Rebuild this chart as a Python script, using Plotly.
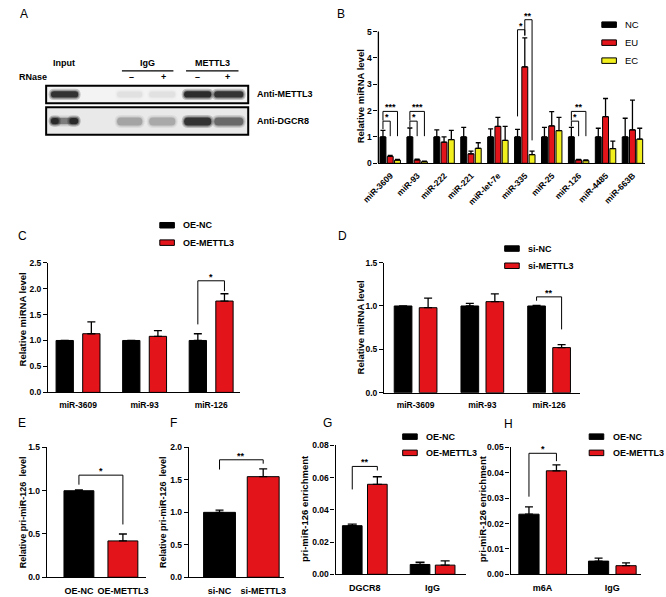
import plotly.graph_objects as go

W, H = 666, 597
FONT = "Liberation Sans, Arial, Helvetica, sans-serif"
RED = "#E3151B"
YELLOW = "#F2EF1E"
BLACK = "#000000"

# ---------------- Data ----------------
# Panel A: western blot (RIP) lanes and relative band intensities
blot_lanes = ["Input", "IgG -", "IgG +", "METTL3 -", "METTL3 +"]
blot_mettl3 = [0.95, 0.03, 0.03, 1.00, 0.92]
blot_dgcr8 = [0.80, 0.26, 0.24, 0.92, 0.55]

# Panel B
b_categories = ["miR-3609", "miR-93", "miR-222", "miR-221", "miR-let-7e",
                "miR-335", "miR-25", "miR-126", "miR-4485", "miR-663B"]
b_series = ["NC", "EU", "EC"]
b_nc = [1.00, 1.00, 1.00, 1.00, 1.00, 1.00, 1.00, 1.00, 1.00, 1.00]
b_nc_err = [0.25, 0.34, 0.27, 0.36, 0.31, 0.29, 0.36, 0.36, 0.33, 0.71]
b_eu = [0.26, 0.13, 0.80, 0.36, 1.40, 3.66, 1.42, 0.13, 1.77, 1.27]
b_eu_err = [0.04, 0.03, 0.20, 0.10, 0.34, 1.10, 0.54, 0.02, 0.69, 1.13]
b_ec = [0.12, 0.06, 0.90, 0.57, 0.87, 0.33, 1.24, 0.10, 0.56, 0.92]
b_ec_err = [0.03, 0.02, 0.35, 0.21, 0.53, 0.13, 0.50, 0.03, 0.28, 0.41]
# (group, series a, series b, bracket height, leg a bottom, leg b bottom, label)
b_sig = [(0, 0, 1, 1.60, 1.30, 1.03, "*"), (0, 0, 2, 1.97, 1.62, 1.03, "***"),
         (1, 0, 1, 1.60, 1.38, 1.03, "*"), (1, 0, 2, 1.97, 1.62, 1.03, "***"),
         (5, 0, 1, 5.07, 1.78, 4.85, "*"), (5, 1, 2, 5.45, 4.85, 0.87, "**"),
         (7, 0, 1, 1.60, 1.40, 1.03, "*"), (7, 0, 2, 1.97, 1.62, 1.03, "**")]

# Panel C
c_categories = ["miR-3609", "miR-93", "miR-126"]
c_series = ["OE-NC", "OE-METTL3"]
c_oe_nc = [1.00, 1.00, 1.00]
c_oe_nc_err = [0.0, 0.0, 0.13]
c_oe_mettl3 = [1.13, 1.08, 1.76]
c_oe_mettl3_err = [0.23, 0.11, 0.14]
c_sig = [(2, 0, 1, 2.15, 1.31, 1.95, "*")]

# Panel D
d_categories = ["miR-3609", "miR-93", "miR-126"]
d_series = ["si-NC", "si-METTL3"]
d_si_nc = [1.00, 1.00, 1.00]
d_si_nc_err = [0.0, 0.03, 0.008]
d_si_mettl3 = [0.98, 1.05, 0.52]
d_si_mettl3_err = [0.11, 0.09, 0.035]
d_sig = [(2, 0, 1, 1.105, 1.06, 0.73, "**")]

# Panel E
e_categories = ["OE-NC", "OE-METTL3"]
e_values = [1.00, 0.42]
e_err = [0.01, 0.08]
e_sig = [(0, 1, 1.18, 1.07, 0.61, "*")]

# Panel F
f_categories = ["si-NC", "si-METTL3"]
f_values = [1.00, 1.55]
f_err = [0.035, 0.12]
f_sig = [(0, 1, 1.81, 1.66, 1.75, "**")]

# Panel G
g_categories = ["DGCR8", "IgG"]
g_series = ["OE-NC", "OE-METTL3"]
g_oe_nc = [0.0302, 0.0061]
g_oe_nc_err = [0.0010, 0.0014]
g_oe_mettl3 = [0.0559, 0.0057]
g_oe_mettl3_err = [0.0047, 0.0026]
g_sig = [(0, 0, 1, 0.067, 0.0527, 0.0645, "**")]

# Panel H
h_categories = ["m6A", "IgG"]
h_series = ["OE-NC", "OE-METTL3"]
h_oe_nc = [0.0237, 0.0052]
h_oe_nc_err = [0.0029, 0.0012]
h_oe_mettl3 = [0.0408, 0.0034]
h_oe_mettl3_err = [0.0023, 0.0011]
h_sig = [(0, 0, 1, 0.0477, 0.0306, 0.0446, "*")]


# ---------------- helpers ----------------
def PX(x):
    return x / W


def PY(y):
    return 1 - y / H


fig = go.Figure()
shapes = []
annotations = []
layout_axes = {}


def text(x, y, s, size=9, bold=True, xanchor="center", yanchor="middle", angle=0):
    annotations.append(dict(
        x=PX(x), y=PY(y), xref="paper", yref="paper", text=s, showarrow=False,
        textangle=angle, xanchor=xanchor, yanchor=yanchor,
        font=dict(family=FONT, size=size, color="black",
                  weight="bold" if bold else "normal")))


def pline(x0, y0, x1, y1, w=1.2):
    shapes.append(dict(type="line", xref="paper", yref="paper",
                       x0=PX(x0), y0=PY(y0), x1=PX(x1), y1=PY(y1),
                       line=dict(color="black", width=w)))


def legend_item(x, y, color, label, bold=True, size=9):
    shapes.append(dict(type="rect", xref="paper", yref="paper",
                       x0=PX(x), x1=PX(x + 15), y0=PY(y - 2.8), y1=PY(y + 2.8),
                       fillcolor=color, line=dict(color="black", width=1)))
    text(x + 22, y, label, size=size, bold=bold, xanchor="left")


def panel(k, cats, series, xdom, ydom, xrange, yrange, tickvals, tickformat,
          width, offsets, capw, ytitle, ytitle_pos, tickangle=0, xfont=8.5,
          manual_yline=None, standoff=4, tsize=9.5):
    xa = "x" if k == 1 else f"x{k}"
    ya = "y" if k == 1 else f"y{k}"
    for vals, errs, color, off, name in series:
        fig.add_trace(go.Bar(
            x=cats, y=vals, name=name, xaxis=xa, yaxis=ya, showlegend=False,
            width=width, offset=off, marker=dict(color=color, line=dict(color="black", width=1)),
            error_y=dict(type="data", symmetric=False, array=errs,
                         arrayminus=[0] * len(errs), color="black",
                         thickness=1.3, width=capw)))
    xkey = "xaxis" if k == 1 else f"xaxis{k}"
    ykey = "yaxis" if k == 1 else f"yaxis{k}"
    layout_axes[xkey] = dict(
        domain=[PX(xdom[0]), PX(xdom[1])], anchor=ya, type="category",
        range=xrange, showline=True, linecolor="black", linewidth=1.3,
        ticks="", showgrid=False, zeroline=False, tickangle=tickangle,
        ticklabelstandoff=standoff,
        tickfont=dict(family=FONT, size=xfont, color="black", weight="bold"))
    layout_axes[ykey] = dict(
        domain=[PY(ydom[0]), PY(ydom[1])], anchor=xa, range=yrange,
        showline=manual_yline is None, linecolor="black", linewidth=1.3,
        ticks="outside", ticklen=4, tickwidth=1.3, tickcolor="black",
        tickvals=tickvals, tickformat=tickformat, showgrid=False,
        zeroline=False,
        tickfont=dict(family=FONT, size=8.5, color="black", weight="bold"))
    if manual_yline is not None:
        shapes.append(dict(type="line", xref=f"{xa} domain", yref=ya,
                           x0=0, x1=0, y0=0, y1=manual_yline,
                           line=dict(color="black", width=1.3)))
    text(ytitle_pos[0], ytitle_pos[1], ytitle, size=tsize, angle=-90)
    return xa, ya


def bracket(xa, ya, xl, xr, h, bl, br, label, lw=1):
    shapes.append(dict(type="path", xref=xa, yref=ya,
                       path=f"M {xl},{bl} L {xl},{h} L {xr},{h} L {xr},{br}",
                       line=dict(color="black", width=lw)))
    annotations.append(dict(x=(xl + xr) / 2, y=h, xref=xa, yref=ya, text=label,
                            showarrow=False, yanchor="bottom", yshift=-3,
                            font=dict(family=FONT, size=9, color="black", weight="bold")))


# ---------------- Panel A: blot ----------------
text(7, 9, "A", size=12, bold=False)
text(48, 59, "Input")
text(134, 59, "IgG")
text(201, 59, "METTL3")
pline(108, 67, 161, 67)
pline(174, 67, 228, 67)
text(16, 73, "RNase")
for xx, s in [(118, "\u2013"), (151, "+"), (186, "\u2013"), (217, "+")]:
    text(xx, 73, s)

shapes.append(dict(type="rect", xref="paper", yref="paper", x0=PX(30), x1=PX(238),
                   y0=PY(100), y1=PY(82), fillcolor="#f3f3f3",
                   line=dict(color="black", width=2)))
shapes.append(dict(type="rect", xref="paper", yref="paper", x0=PX(30), x1=PX(238),
                   y0=PY(132), y1=PY(104), fillcolor="#e9e9e9",
                   line=dict(color="black", width=2)))

lane_x = [(35, 63), (103, 129), (136, 163), (172, 200), (203, 233)]


def rrect(x0, y0, x1, y1, r):
    r = min(r, (y1 - y0) / 2, (x1 - x0) / 2)
    p = [f"M {PX(x0 + r)},{PY(y0)}", f"L {PX(x1 - r)},{PY(y0)}",
         f"Q {PX(x1)},{PY(y0)} {PX(x1)},{PY(y0 + r)}", f"L {PX(x1)},{PY(y1 - r)}",
         f"Q {PX(x1)},{PY(y1)} {PX(x1 - r)},{PY(y1)}", f"L {PX(x0 + r)},{PY(y1)}",
         f"Q {PX(x0)},{PY(y1)} {PX(x0)},{PY(y1 - r)}", f"L {PX(x0)},{PY(y0 + r)}",
         f"Q {PX(x0)},{PY(y0)} {PX(x0 + r)},{PY(y0)}", "Z"]
    return " ".join(p)


def band(x0, x1, yc, hh, a):
    for grow, frac in [(2.5, 0.22), (1.2, 0.35), (0, 0.75)]:
        shapes.append(dict(type="path", xref="paper", yref="paper",
                           path=rrect(x0 - grow, yc - hh - grow, x1 + grow, yc + hh + grow, hh + grow),
                           fillcolor=f"rgba(15,15,15,{a * frac:.3f})", line=dict(width=0)))


for (x0, x1), a in zip(lane_x, blot_mettl3):
    if a > 0.05:
        band(x0, x1, 91, 3.2, a)
    else:
        band(x0, x1, 91, 3.0, 0.06)
for i, ((x0, x1), a) in enumerate(zip(lane_x, blot_dgcr8)):
    if i == 0:
        band(x0, x1, 118, 3.0, a * 0.55)
        band(x0, x0 + 8, 118, 3.2, a)
        band(x1 - 9, x1, 118, 3.2, a)
    else:
        band(x0, x1, 118.5, 4.0, a)
text(245, 91, "Anti-METTL3", xanchor="left")
text(245, 118, "Anti-DGCR8", xanchor="left")

# ---------------- Panel B ----------------
text(334, 9, "B", size=12, bold=False)
xb, yb = panel(1, b_categories,
               [(b_nc, b_nc_err, BLACK, -0.39, "NC"), (b_eu, b_eu_err, RED, -0.12, "EU"),
                (b_ec, b_ec_err, YELLOW, 0.15, "EC")],
               (372, 646), (161, 2.9), [-0.45, 9.44], [0, 5.9], [0, 1, 2, 3, 4, 5], "d",
               0.22, None, 2.5, "Relative miRNA level", (354, 93), tickangle=-45,
               xfont=8.5, manual_yline=5, standoff=3)
b_off = [-0.39, -0.12, 0.15]
for g, sa, sb, h, ba, bb, lab in b_sig:
    bracket(xb, yb, g + b_off[sa] + 0.11, g + b_off[sb] + 0.11, h, ba, bb, lab)
for i, (nm, col) in enumerate(zip(b_series, [BLACK, RED, YELLOW])):
    legend_item(602, 20 + 18.3 * i, col, nm, bold=False, size=9.5)

# ---------------- Panel C ----------------
text(6, 235, "C", size=12, bold=False)
xc, yc = panel(2, c_categories,
               [(c_oe_nc, c_oe_nc_err, BLACK, -0.33, "OE-NC"),
                (c_oe_mettl3, c_oe_mettl3_err, RED, 0.07, "OE-METTL3")],
               (32, 230), (394, 262), [-0.45, 2.44], [0, 2.5],
               [0, 0.5, 1.0, 1.5, 2.0, 2.5], ".1f", 0.26, None, 4,
               "Relative miRNA level", (6, 320))
c_off = [-0.33, 0.07]
for g, sa, sb, h, ba, bb, lab in c_sig:
    bracket(xc, yc, g + c_off[sa] + 0.13, g + c_off[sb] + 0.13, h, ba, bb, lab)
for i, (nm, col) in enumerate(zip(c_series, [BLACK, RED])):
    legend_item(147, 224 + 17.7 * i, col, nm)

# ---------------- Panel D ----------------
text(335, 235, "D", size=12, bold=False)
xd, yd = panel(3, d_categories,
               [(d_si_nc, d_si_nc_err, BLACK, -0.32, "si-NC"),
                (d_si_mettl3, d_si_mettl3_err, RED, 0.055, "si-METTL3")],
               (378, 580), (394.3, 262), [-0.47, 2.47], [0, 1.5],
               [0, 0.5, 1.0, 1.5], ".1f", 0.265, None, 4,
               "Relative miRNA level", (354, 328))
d_off = [-0.32, 0.055]
for g, sa, sb, h, ba, bb, lab in d_sig:
    bracket(xd, yd, g + d_off[sa] + 0.1325, g + d_off[sb] + 0.1325, h, ba, bb, lab)
for i, (nm, col) in enumerate(zip(d_series, [BLACK, RED])):
    legend_item(502, 247.7 + 17.5 * i, col, nm)

# ---------------- Panel E ----------------
text(5, 425, "E", size=12, bold=False)
fig.add_trace(go.Bar(x=e_categories, y=e_values, xaxis="x4", yaxis="y4", showlegend=False,
                     width=0.68, offset=-0.34,
                     marker=dict(color=[BLACK, RED], line=dict(color="black", width=1)),
                     error_y=dict(type="data", symmetric=False, array=e_err,
                                  arrayminus=[0, 0], color="black", thickness=1.3, width=4)))
panel(4, e_categories, [], (30.7, 133), (582, 450), [-0.73, 1.53], [0, 1.5],
      [0, 0.5, 1.0, 1.5], ".1f", 0.68, None, 4,
      "Relative pri-miR-126\u00a0\u00a0level", (7, 516), xfont=9, standoff=5, tsize=9)
for a, b, h, ba, bb, lab in e_sig:
    bracket("x4", "y4", a, b, h, ba, bb, lab)

# ---------------- Panel F ----------------
text(161, 425, "F", size=12, bold=False)
fig.add_trace(go.Bar(x=f_categories, y=f_values, xaxis="x5", yaxis="y5", showlegend=False,
                     width=0.73, offset=-0.365,
                     marker=dict(color=[BLACK, RED], line=dict(color="black", width=1)),
                     error_y=dict(type="data", symmetric=False, array=f_err,
                                  arrayminus=[0, 0], color="black", thickness=1.3, width=4)))
panel(5, f_categories, [], (177, 275), (582, 450), [-0.7, 1.48], [0, 2.0],
      [0, 0.5, 1.0, 1.5, 2.0], ".1f", 0.73, None, 4,
      "Relative pri-miR-126\u00a0\u00a0level", (151, 516), xfont=9, standoff=5, tsize=9)
for a, b, h, ba, bb, lab in f_sig:
    bracket("x5", "y5", a, b, h, ba, bb, lab)

# ---------------- Panel G ----------------
text(320, 425, "G", size=12, bold=False)
xg, yg = panel(6, g_categories,
               [(g_oe_nc, g_oe_nc_err, BLACK, -0.33, "OE-NC"),
                (g_oe_mettl3, g_oe_mettl3_err, RED, 0.04, "OE-METTL3")],
               (328, 462), (579, 448), [-0.43, 1.49], [0, 0.08],
               [0, 0.02, 0.04, 0.06, 0.08], ".2f", 0.29, None, 4.5,
               "pri-miR-126 enrichment", (296, 512), xfont=9, standoff=5)
g_off = [-0.33, 0.04]
for g, sa, sb, h, ba, bb, lab in g_sig:
    bracket(xg, yg, g + g_off[sa] + 0.145, g + g_off[sb] + 0.145, h, ba, bb, lab)
for i, (nm, col) in enumerate(zip(g_series, [BLACK, RED])):
    legend_item(397, 439 + 16.5 * i, col, nm)

# ---------------- Panel H ----------------
text(506, 426, "H", size=12, bold=False)
xh, yh = panel(7, h_categories,
               [(h_oe_nc, h_oe_nc_err, BLACK, -0.34, "OE-NC"),
                (h_oe_mettl3, h_oe_mettl3_err, RED, 0.055, "OE-METTL3")],
               (508, 642), (579, 450), [-0.46, 1.41], [0, 0.05],
               [0, 0.01, 0.02, 0.03, 0.04, 0.05], ".2f", 0.29, None, 4,
               "pri-miR-126 enrichment", (479.5, 512), xfont=9, standoff=5)
h_off = [-0.34, 0.055]
for g, sa, sb, h, ba, bb, lab in h_sig:
    bracket(xh, yh, g + h_off[sa] + 0.145, g + h_off[sb] + 0.145, h, ba, bb, lab)
for i, (nm, col) in enumerate(zip(h_series, [BLACK, RED])):
    legend_item(589, 439 + 16.5 * i, col, nm)

fig.update_layout(
    width=W, height=H, autosize=False,
    margin=dict(l=0, r=0, t=0, b=0),
    paper_bgcolor="white", plot_bgcolor="white",
    barmode="overlay", showlegend=False,
    font=dict(family=FONT, color="black"),
    shapes=shapes, annotations=annotations,
    **layout_axes)

fig.write_html("out.html", config={"displayModeBar": False},
               post_script="document.body.style.margin='0';document.body.style.overflow='hidden';")
